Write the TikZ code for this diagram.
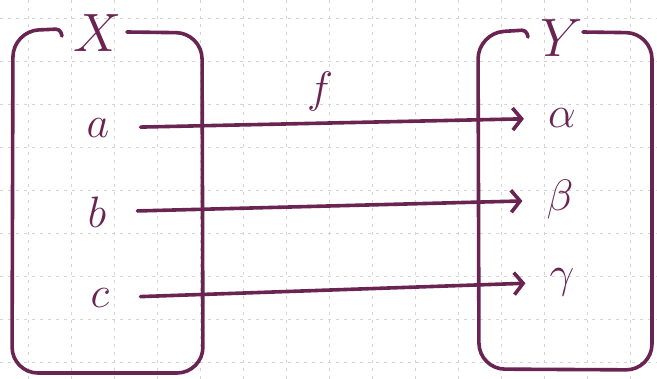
\documentclass[tikz,border=0pt]{standalone}
\usepackage{fix-cm}
\usepackage{amsmath}
\usepackage{xcolor}
\usepackage{tikz}
\usetikzlibrary{arrows.meta,positioning,calc}
\definecolor{inkplum}{RGB}{106,36,82}
\definecolor{gridgray}{RGB}{212,212,212}

\begin{document}
\begin{tikzpicture}[x=1pt,y=-1pt,
    letter/.style={text=inkplum,inner sep=0pt,font=\fontsize{44}{48}\selectfont},
    setname/.style={letter,font=\fontsize{54}{58}\selectfont},
    setbox/.style={draw=inkplum,line width=3.6pt,line cap=round,line join=round},
    maparrow/.style={draw=inkplum,line width=3.6pt,line cap=round,
      -{Straight Barb[length=9pt,width=22pt]},shorten <=31pt,shorten >=24pt},
    gridline/.style={gridgray,line width=0.8pt,dash pattern=on 3pt off 5pt}]
  \useasboundingbox[fill=white] (0,0) rectangle (657,379);
  % squared paper
  \foreach \gx in {28,71,...,630}
    \draw[gridline] (\gx,0) -- (\gx,379);
  \foreach \gy in {18,61,...,362}
    \draw[gridline] (0,\gy) -- (657,\gy);
  % the two sets
  \draw[setbox] (62,36) [rounded corners=4pt] -- (60,29) [rounded corners=26pt] -- (13,31)
    -- (12,373) -- (203,373) -- (202,33) -- (127,32);
  \draw[setbox] (528,37) [rounded corners=4pt] -- (526,30) [rounded corners=26pt] -- (478,33)
    -- (479,369) -- (652,370) -- (652,33) -- (583,32);
  \node[setname] (X) at (98,33) {$X$};
  \node[setname] (Y) at (562,38) {$Y$};
  \node[letter] (a) at (98,128) {$a$};
  \node[letter] (b) at (97,212) {$b$};
  \node[letter] (c) at (100,298) {$c$};
  \node[letter] (alpha) at (562,118) {$\alpha$};
  \node[letter] (beta) at (560,200) {$\beta$};
  \node[letter] (gamma) at (562,282) {$\gamma$};
  \node[letter] (f) at (320,92) {$f$};
  % the map
  \draw[maparrow] (a) -- (alpha);
  \draw[maparrow] (b) -- (beta);
  \draw[maparrow] (c) -- (gamma);
\end{tikzpicture}
\end{document}
